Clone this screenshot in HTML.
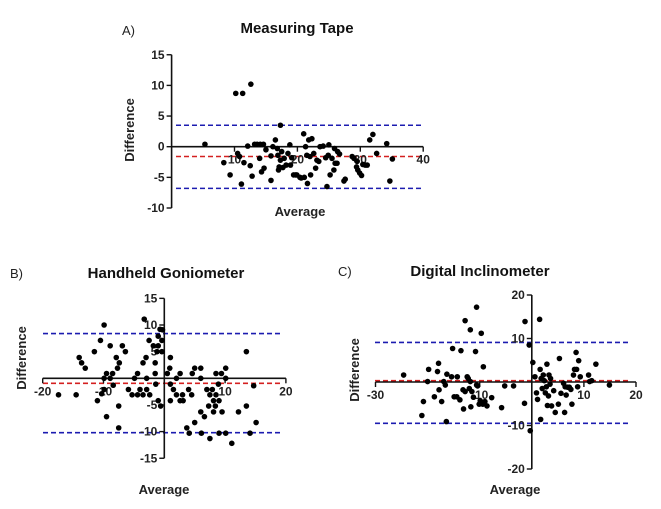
<!DOCTYPE html>
<html><head><meta charset="utf-8"><style>
html,body{margin:0;padding:0;background:#fff;}
svg{display:block;font-family:"Liberation Sans",Arial,sans-serif;}
.tick{font-size:12px;font-weight:bold;fill:#222;}
.title{font-size:15px;font-weight:bold;fill:#111;}
.lab{font-size:13px;font-weight:bold;fill:#222;}
.pl{font-size:13px;fill:#222;}
</style></head><body>
<svg id="fig" width="661" height="509" viewBox="0 0 661 509">
<text class="pl" x="122" y="35">A)</text>
<text class="title" x="297" y="33" text-anchor="middle">Measuring Tape</text>
<text class="lab" x="300" y="216" text-anchor="middle">Average</text>
<text class="lab" transform="translate(134,130) rotate(-90)" text-anchor="middle">Difference</text>
<text class="pl" x="10" y="278">B)</text>
<text class="title" x="166" y="278" text-anchor="middle">Handheld Goniometer</text>
<text class="lab" x="164" y="494" text-anchor="middle">Average</text>
<text class="lab" transform="translate(26,358) rotate(-90)" text-anchor="middle">Difference</text>
<text class="pl" x="338" y="276">C)</text>
<text class="title" x="480" y="276" text-anchor="middle">Digital Inclinometer</text>
<text class="lab" x="515" y="494" text-anchor="middle">Average</text>
<text class="lab" transform="translate(359,370) rotate(-90)" text-anchor="middle">Difference</text>
</svg>
<script>
// Panel A data
const aX = [5.3,10.2,11.3,12.6,17.3,8.3,9.3,11.1,11.5,12.5,12.8,12.1,10.5,10.8,13.2,13.6,14.1,14.6,14.0,14.3,14.7,15.0,15.8,15.8,16.1,16.5,16.8,16.9,17.1,17.0,17.3,17.5,17.7,17.9,18.2,18.5,18.8,18.9,19.1,19.4,19.7,19.9,20.4,20.6,21.0,21.1,21.3,21.5,21.6,21.8,22.0,22.1,22.3,22.6,22.9,23.1,23.4,23.6,24.1,24.5,24.7,24.9,25.0,25.2,25.5,25.8,25.9,26.0,26.3,26.4,26.7,27.4,27.6,28.7,29.0,29.4,29.5,29.6,29.9,30.2,30.4,30.8,31.1,31.5,32.0,32.6,34.2,34.7,35.1];
const aY = [0.4,8.7,8.7,10.2,3.5,-2.6,-4.6,-6.1,-2.6,-3.1,-4.8,0.1,-1.1,-1.6,0.4,0.4,0.4,0.4,-1.9,-4.1,-3.5,-0.5,-5.5,-1.5,0,1.1,-0.3,-1.4,-3.3,-3.8,-2.2,-0.8,-3.4,-1.9,-3.0,-1.1,0.3,-3.0,-1.8,-4.6,-4.6,-4.6,-5.0,-5.1,2.1,-5.0,0,-1.4,-6.0,1.1,-1.6,-4.6,1.3,-1.1,-3.5,-2.2,-2.4,0,0.1,-1.8,-6.5,-1.4,0.3,-4.6,-1.9,-3.8,-0.3,-2.7,-2.7,-0.8,-1.2,-5.6,-5.3,-1.6,-1.9,-3.3,-2.4,-3.8,-4.3,-4.7,-2.9,-3.0,-3.0,1.1,2.0,-1.1,0.5,-5.6,-2.0];
const aXTicks = [10,20,30,40];
const aYTicks = [-10,-5,0,5,10,15];
const aLines = [3.5,-1.6,-6.8];
// Panel B data
const bX = [-17.4,-14.5,-14.0,-13.6,-13.0,-11.5,-11.0,-10.5,-10.3,-9.9,-9.9,-9.9,-9.5,-9.5,-8.9,-8.9,-8.5,-8.4,-7.9,-7.7,-7.5,-7.5,-7.4,-6.9,-6.4,-5.9,-5.3,-4.9,-4.4,-4.4,-4.0,-3.5,-3.5,-3.3,-3.0,-2.9,-2.9,-2.5,-2.4,-1.8,-1.5,-1.5,-1.4,-1.2,-1.0,-1.0,-1.0,-0.7,-0.6,-0.4,-0.4,-0.3,0.5,0.9,1.0,1.0,1.0,1.5,2.0,2.0,2.6,2.6,3.0,3.1,3.7,4.0,4.1,4.5,4.6,5.0,5.0,6.0,6.0,6.0,6.1,6.6,7.0,7.3,7.5,7.5,7.9,8.1,8.1,8.4,8.5,8.5,8.9,9.0,9.0,9.4,9.5,10.1,10.1,10.1,11.1,12.2,13.5,13.5,14.1,14.7,15.1];
const bY = [-3.1,-3.1,3.9,2.9,1.9,5.0,-4.2,7.1,-2.9,10,0,-2.1,0.9,-7.2,6.1,0,0.9,-1.3,3.9,1.9,-5.2,-9.3,2.9,6.1,5.0,-2.1,-3.1,0,0.9,-3.1,-2.1,-3.1,2.9,11.1,3.9,0,-2.1,7.1,-3.1,6.1,0.9,2.9,-1.1,5.0,6.1,7.9,-4.2,9.2,-5.2,7.1,5.0,9.1,0.9,1.9,3.9,-1.1,-4.2,-2.1,-3.1,0,0.9,-4.2,-3.1,-4.2,-9.3,-2.1,-10.3,-3.1,0.9,1.9,-8.3,1.9,0,-6.3,-10.3,-7.2,-2.1,-5.2,-11.3,-3.1,-2.1,-4.2,-6.3,-5.2,0.9,-3.1,-1.1,-4.2,-10.3,0.9,-6.3,-10.3,0,1.9,-12.2,-6.3,5.0,-5.2,-10.3,-1.4,-8.3];
const bXTicks = [-20,-10,10,20];
const bYTicks = [-15,-10,-5,5,10,15];
const bLines = [8.4,-0.94,-10.2];
// Panel C data
const cX = [-24.6,-21.1,-20.8,-20.0,-19.8,-18.7,-18.1,-17.9,-17.8,-17.3,-16.9,-16.6,-16.4,-16.3,-15.4,-15.2,-14.9,-14.4,-14.3,-13.8,-13.6,-13.2,-13.1,-12.8,-12.8,-12.4,-12.2,-12.0,-11.8,-11.8,-11.7,-11.5,-11.2,-10.8,-10.6,-10.6,-10.4,-10.1,-9.9,-9.7,-9.4,-9.3,-9.0,-8.6,-7.7,-5.8,-5.2,-3.5,-1.4,-1.3,-0.5,-0.3,0.2,0.6,0.9,1.1,1.5,1.6,1.7,1.8,2.0,2.2,2.4,2.6,2.8,2.9,3.0,3.2,3.3,3.5,3.6,3.8,4.2,4.5,5.1,5.3,5.6,6.1,6.3,6.4,6.6,6.9,7.2,7.5,7.7,8.0,8.2,8.5,8.6,8.8,9.0,9.3,10.9,11.1,11.5,12.3,14.9];
const cY = [1.6,-7.7,-4.5,0.1,2.9,-3.4,2.4,4.3,-1.8,-4.5,0.1,-0.7,-9.1,1.8,1.2,7.7,-3.4,-3.4,1.2,-4.1,7.2,-1.8,-6.2,14.1,-2.2,1.2,0.8,-1.5,12.0,0.1,-5.7,-2.2,-3.5,7.0,17.2,-0.7,-0.9,-5.1,-4.3,11.2,-5.1,3.5,-4.5,-5.5,-3.6,-5.9,-0.9,-0.9,-4.9,13.9,8.5,-11.2,4.5,1.2,-2.5,-4.0,14.4,2.9,-8.6,0.8,-1.5,1.6,0.3,-2.5,-1.1,4.1,-5.4,-3.2,1.6,-0.5,0.8,-5.5,-2.0,-7.0,-5.1,5.4,-2.6,-0.3,-7.0,-1.1,-3.0,-1.2,-1.2,-1.7,-5.1,1.6,2.9,6.8,2.9,-1.1,4.9,1.2,1.6,0.1,0.3,4.1,-0.7];
const cXTicks = [-30,-10,10,20];
const cYTicks = [-20,-10,10,20];
const cLines = [9.1,0.3,-9.5];

const NS = 'http://www.w3.org/2000/svg';
const svg = document.getElementById('fig');
function mk(tag, attrs){ const e = document.createElementNS(NS, tag); for (const k in attrs) e.setAttribute(k, attrs[k]); svg.appendChild(e); return e; }

function panel(id, xs, ys, xTicks, yTicks, lines, cfg){
  const sx = v => cfg.x0 + v * cfg.kx;
  const sy = v => cfg.y0 - v * cfg.ky;
  lines.forEach((v, i) => {
    const l = mk('line', {x1: cfg.lx1, x2: cfg.lx2, y1: sy(v), y2: sy(v), stroke: i === 1 ? '#d42020' : '#1c1cb0', 'stroke-width': 1.6, 'stroke-dasharray': '5,3'});
    
    
  });
  const xa = mk('line', {x1: sx(cfg.xmin), x2: sx(cfg.xmax), y1: sy(0), y2: sy(0), stroke: '#111', 'stroke-width': 1.6});
  
  
  const ya = mk('line', {x1: sx(0), x2: sx(0), y1: sy(cfg.ymax), y2: sy(cfg.ymin), stroke: '#111', 'stroke-width': 1.6});
  
  
  xTicks.forEach(t => {
    const tk = mk('line', {x1: sx(t), x2: sx(t), y1: sy(0), y2: sy(0) + 5, stroke: '#111', 'stroke-width': 1.4});
    
    
    const tx = mk('text', {x: sx(t), y: sy(0) + 17, 'text-anchor': 'middle', class: 'tick'});
    tx.textContent = t;
    
    
  });
  yTicks.forEach(t => {
    const tk = mk('line', {x1: sx(0) - 5, x2: sx(0), y1: sy(t), y2: sy(t), stroke: '#111', 'stroke-width': 1.4});
    
    
    const tx = mk('text', {x: sx(0) - 7, y: sy(t) + 4, 'text-anchor': 'end', class: 'tick'});
    tx.textContent = t;
    
    
  });
  xs.forEach((v, i) => {
    const c = mk('circle', {cx: sx(v), cy: sy(ys[i]), r: 2.8, fill: '#000'});
    
    
  });
}
panel('panel-a', aX, aY, aXTicks, aYTicks, aLines, {x0:171.6, kx:6.29, y0:146.7, ky:6.13, xmin:0, xmax:40, ymin:-10, ymax:15, lx1:176, lx2:423});
panel('panel-b', bX, bY, bXTicks, bYTicks, bLines, {x0:164.3, kx:6.08, y0:378.3, ky:5.33, xmin:-20, xmax:20, ymin:-15, ymax:15, lx1:43, lx2:283});
panel('panel-c', cX, cY, cXTicks, cYTicks, cLines, {x0:531.8, kx:5.21, y0:382, ky:4.35, xmin:-30, xmax:20, ymin:-20, ymax:20, lx1:375, lx2:630});
</script>
</body></html>
